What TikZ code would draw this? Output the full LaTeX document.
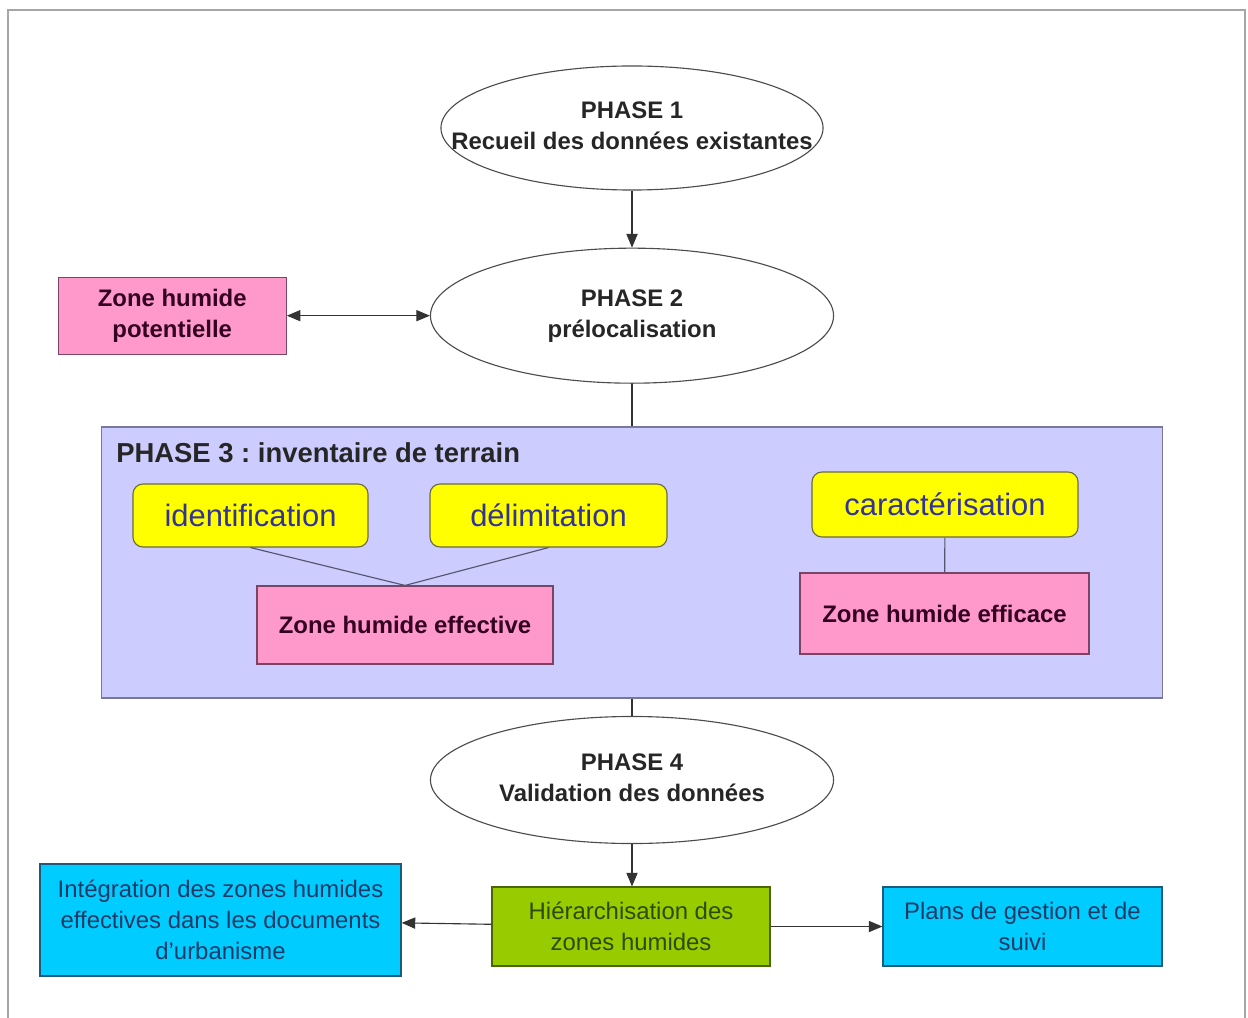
\documentclass[tikz,border=0pt]{standalone}
\usepackage{fontspec}
\setmainfont{Liberation Sans}
\usetikzlibrary{arrows.meta, positioning, shapes.geometric}
\frenchspacing

\definecolor{rose}{HTML}{FF99CC}
\definecolor{lavande}{HTML}{CCCCFF}
\definecolor{jaune}{HTML}{FFFF00}
\definecolor{vert}{HTML}{99CC00}
\definecolor{ciel}{HTML}{00CCFF}
\definecolor{bordrose}{HTML}{7A4466}
\definecolor{bordjaune}{HTML}{6B6B40}
\definecolor{bordlav}{HTML}{78789A}
\definecolor{bordciel}{HTML}{1F5A7A}
\definecolor{bordvert}{HTML}{4A6600}
\definecolor{txtjaune}{HTML}{333399}
\definecolor{txtciel}{HTML}{1F3A66}
\definecolor{txtvert}{HTML}{2E4A00}
\definecolor{txtrose}{HTML}{330022}

% two-line text that may run past the ellipse
\newcommand{\phasetxt}[2]{\makebox[0pt]{\begin{tabular}{@{}c@{}}#1\\#2\end{tabular}}}

\begin{document}
\begin{tikzpicture}[x=0.025cm, y=-0.025cm, >={Triangle[length=3.4mm, width=2.8mm]},
  phase/.style={draw=black!70, line width=0.8pt, ellipse, inner sep=0pt,
                font=\fontsize{17}{22}\selectfont\bfseries, text=black!85},
  zone/.style={draw=bordrose, fill=rose, line width=0.8pt, align=center, inner sep=0pt,
               font=\fontsize{17}{22}\selectfont\bfseries, text=txtrose},
  etape/.style={draw=bordjaune, fill=jaune, line width=0.8pt, rounded corners=0.25cm,
                inner sep=0pt, font=\fontsize{22}{26}\selectfont, text=txtjaune},
  sortie/.style={draw=bordciel, fill=ciel, line width=0.8pt, align=center, inner sep=0pt,
                 font=\fontsize{17}{22}\selectfont, text=txtciel},
  lien/.style={line width=0.8pt, draw=black!80}]
  \useasboundingbox (0,0) rectangle (1248,1018);
  \draw[gray!70, line width=1.5pt] (8,1030) -- (8,10) -- (1245,10) -- (1245,1030);

  \node[phase, minimum width=9.55cm, minimum height=3.1cm] (ph1) at (632,128)
    {\phasetxt{PHASE 1}{Recueil des données existantes}};
  \node[phase, minimum width=10.075cm, minimum height=3.375cm, below=1.425cm of ph1] (ph2)
    {\phasetxt{PHASE 2}{prélocalisation}};
  \node[zone, minimum width=5.7cm, minimum height=1.925cm, left=3.575cm of ph2] (pot)
    {Zone humide\\potentielle};

  % phase 3
  \node[draw=bordlav, fill=lavande, line width=0.8pt, minimum width=26.5cm,
        minimum height=6.775cm] (phase3) at (632,562.5) {};
  \node[anchor=west, inner sep=0pt, font=\fontsize{19.5}{24}\selectfont\bfseries,
        text=black!85] (titre3) at (116,453) {PHASE 3 : inventaire de terrain};
  \node[etape, minimum width=5.875cm, minimum height=1.575cm] (ident) at (250.5,515.5)
    {identification};
  \node[etape, minimum width=5.925cm, minimum height=1.575cm] (delim) at (548.5,515.5)
    {délimitation};
  \node[etape, minimum width=6.65cm, minimum height=1.625cm] (caract) at (945,504.5)
    {caractérisation};
  \node[zone, minimum width=7.4cm, minimum height=1.95cm] (effect) at (405,625)
    {Zone humide effective};
  \node[zone, minimum width=7.225cm, minimum height=2.025cm] (effic) at (944.5,613.5)
    {Zone humide efficace};

  \node[phase, minimum width=10.075cm, minimum height=3.175cm] (ph4) at (632,780)
    {\phasetxt{PHASE 4}{Validation des données}};

  % suite
  \node[sortie, draw=bordvert, fill=vert, text=txtvert, minimum width=6.95cm,
        minimum height=1.975cm] (hier) at (631,926.5)
    {Hiérarchisation des\\zones humides};
  \node[sortie, minimum width=9.025cm, minimum height=2.8cm] (integ) at (220.5,920)
    {Intégration des zones humides\\effectives dans les documents\\d'urbanisme};
  \node[sortie, minimum width=6.975cm, minimum height=1.975cm] (plans) at (1022.5,926.5)
    {Plans de gestion et de\\suivi};

  \draw[lien, ->] (ph1) -- (ph2);
  \draw[lien, <->] (pot) -- (ph2);
  \draw[lien] (ph2) -- (phase3);
  \draw[lien, draw=bordlav!70!black] (ident.south) -- (effect.north);
  \draw[lien, draw=bordlav!70!black] (delim.south) -- (effect.north);
  \draw[lien, draw=bordlav!70!black] (caract) -- (effic);
  \draw[lien] (phase3) -- (ph4);
  \draw[lien, ->] (ph4.south) -- (ph4.south |- hier.north);
  \draw[lien, ->] (hier) -- (integ);
  \draw[lien, ->] (hier) -- (plans);
\end{tikzpicture}
\end{document}
